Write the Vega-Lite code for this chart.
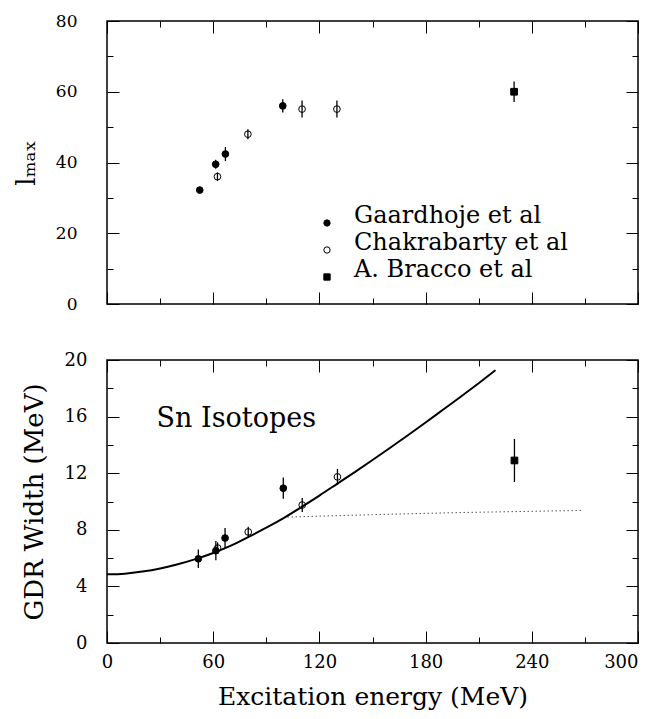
{
  "$schema": "https://vega.github.io/schema/vega-lite/v6.json",
  "padding": {"left": 12, "top": 11, "right": 5, "bottom": 3},
  "spacing": 37,
  "background": "white",
  "config": {
    "font": "DejaVu Serif",
    "view": {"stroke": "black", "strokeWidth": 1.5},
    "axis": {"domain": false, "grid": false, "tickColor": "black", "tickWidth": 1, "labelColor": "black", "titleColor": "black", "labelFont": "DejaVu Serif", "titleFont": "DejaVu Serif", "titleFontWeight": "normal", "labelFontSize": 17}
  },
  "datasets": {
    "lmax": [
      {"source": "Gaardhoje et al", "E": 52.4, "v": 32.2, "lo": 31.6, "hi": 32.8},
      {"source": "Gaardhoje et al", "E": 61.4, "v": 39.5, "lo": 38.2, "hi": 40.8},
      {"source": "Gaardhoje et al", "E": 66.9, "v": 42.4, "lo": 40.4, "hi": 44.4},
      {"source": "Gaardhoje et al", "E": 99.3, "v": 56.0, "lo": 54.1, "hi": 57.9},
      {"source": "Chakrabarty et al", "E": 62.4, "v": 36.0, "lo": 34.8, "hi": 37.2},
      {"source": "Chakrabarty et al", "E": 79.6, "v": 48.0, "lo": 46.6, "hi": 49.4},
      {"source": "Chakrabarty et al", "E": 110.2, "v": 55.1, "lo": 52.7, "hi": 57.5},
      {"source": "Chakrabarty et al", "E": 129.9, "v": 55.1, "lo": 52.7, "hi": 57.5},
      {"source": "A. Bracco et al", "E": 230, "v": 60.0, "lo": 57.1, "hi": 62.9}
    ],
    "gdr": [
      {"source": "Gaardhoje et al", "E": 51.6, "v": 5.95, "lo": 5.3, "hi": 6.6},
      {"source": "Gaardhoje et al", "E": 61.5, "v": 6.52, "lo": 5.84, "hi": 7.2},
      {"source": "Gaardhoje et al", "E": 66.7, "v": 7.42, "lo": 6.71, "hi": 8.13},
      {"source": "Gaardhoje et al", "E": 99.6, "v": 10.94, "lo": 10.19, "hi": 11.69},
      {"source": "Chakrabarty et al", "E": 62.5, "v": 6.71, "lo": 6.31, "hi": 7.11},
      {"source": "Chakrabarty et al", "E": 79.8, "v": 7.85, "lo": 7.49, "hi": 8.21},
      {"source": "Chakrabarty et al", "E": 110.3, "v": 9.75, "lo": 9.26, "hi": 10.24},
      {"source": "Chakrabarty et al", "E": 130.2, "v": 11.74, "lo": 11.18, "hi": 12.3},
      {"source": "A. Bracco et al", "E": 230.2, "v": 12.9, "lo": 11.38, "hi": 14.42}
    ],
    "curve": [
      {"E": 0, "W": 4.85}, {"E": 10, "W": 4.9}, {"E": 20, "W": 5.05}, {"E": 30, "W": 5.27},
      {"E": 40, "W": 5.57}, {"E": 50, "W": 5.93}, {"E": 60, "W": 6.36}, {"E": 70, "W": 6.88},
      {"E": 80, "W": 7.5}, {"E": 90, "W": 8.15}, {"E": 100, "W": 8.85}, {"E": 110, "W": 9.62},
      {"E": 120, "W": 10.42}, {"E": 130, "W": 11.25}, {"E": 140, "W": 12.08}, {"E": 150, "W": 12.93},
      {"E": 160, "W": 13.8}, {"E": 170, "W": 14.68}, {"E": 180, "W": 15.58}, {"E": 190, "W": 16.5},
      {"E": 200, "W": 17.42}, {"E": 210, "W": 18.36}, {"E": 219.5, "W": 19.28}
    ],
    "dotted": [
      {"E": 102, "W": 8.9}, {"E": 150, "W": 9.07}, {"E": 200, "W": 9.22}, {"E": 269, "W": 9.37}
    ],
    "note": [
      {"E": 28, "W": 15.3, "label": "Sn Isotopes"}
    ]
  },
  "resolve": {"scale": {"shape": "independent", "fill": "independent", "stroke": "independent"}},
  "vconcat": [
    {
      "width": 531,
      "height": 283,
      "data": {"name": "lmax"},
      "layer": [
        {
          "mark": {"type": "rule", "color": "black", "strokeWidth": 1.3},
          "encoding": {
            "x": {"field": "E", "type": "quantitative", "scale": {"domain": [0, 300], "nice": false},
              "axis": {"orient": "top", "values": [0, 30, 60, 90, 120, 150, 180, 210, 240, 270, 300], "labels": false, "title": null,
                "tickSize": {"condition": {"test": "datum.value % 60 === 0", "value": -12}, "value": -6}}},
            "y": {"field": "lo", "type": "quantitative", "scale": {"domain": [0, 80], "nice": false},
              "axis": {"orient": "right", "values": [0, 10, 20, 30, 40, 50, 60, 70, 80], "labels": false, "title": null,
                "tickSize": {"condition": {"test": "datum.value % 20 === 0", "value": -12}, "value": -6}}},
            "y2": {"field": "hi"}
          }
        },
        {
          "mark": {"type": "point", "strokeWidth": 1, "opacity": 1, "size": 45},
          "encoding": {
            "x": {"field": "E", "type": "quantitative", "scale": {"domain": [0, 300], "nice": false},
              "axis": {"orient": "bottom", "values": [0, 30, 60, 90, 120, 150, 180, 210, 240, 270, 300], "labels": false, "title": null,
                "tickSize": {"condition": {"test": "datum.value % 60 === 0", "value": -12}, "value": -6}}},
            "y": {"field": "v", "type": "quantitative", "scale": {"domain": [0, 80], "nice": false},
              "axis": {"orient": "left", "values": [0, 10, 20, 30, 40, 50, 60, 70, 80],
                "labelExpr": "datum.value % 20 === 0 ? datum.label : ''",
                "tickSize": {"condition": {"test": "datum.value % 20 === 0", "value": -12}, "value": -6},
                "labelPadding": 42, "title": "lₘₐₓ", "titleFontSize": 26, "titlePadding": 16}},
            "shape": {"field": "source", "type": "nominal",
              "scale": {"domain": ["Gaardhoje et al", "Chakrabarty et al", "A. Bracco et al"], "range": ["circle", "circle", "square"]},
              "legend": {"orient": "none", "legendX": 208, "legendY": 190, "title": null, "labelFontSize": 24, "labelFont": "DejaVu Serif", "labelColor": "black", "labelOffset": 15, "labelLimit": 0, "labelBaseline": "alphabetic", "rowPadding": 2, "symbolStrokeWidth": 1, "symbolSize": 40, "padding": 0}},
            "fill": {"field": "source", "type": "nominal",
              "scale": {"domain": ["Gaardhoje et al", "Chakrabarty et al", "A. Bracco et al"], "range": ["black", "transparent", "black"]},
              "legend": {"orient": "none", "legendX": 208, "legendY": 190, "title": null, "labelFontSize": 24, "labelFont": "DejaVu Serif", "labelColor": "black", "labelOffset": 15, "labelLimit": 0, "labelBaseline": "alphabetic", "rowPadding": 2, "symbolStrokeWidth": 1, "symbolSize": 40, "padding": 0}},
            "stroke": {"field": "source", "type": "nominal",
              "scale": {"domain": ["Gaardhoje et al", "Chakrabarty et al", "A. Bracco et al"], "range": ["black", "black", "black"]},
              "legend": {"orient": "none", "legendX": 208, "legendY": 190, "title": null, "labelFontSize": 24, "labelFont": "DejaVu Serif", "labelColor": "black", "labelOffset": 15, "labelLimit": 0, "labelBaseline": "alphabetic", "rowPadding": 2, "symbolStrokeWidth": 1, "symbolSize": 40, "padding": 0}}
          }
        }
      ],
      "resolve": {"axis": {"x": "independent", "y": "independent"}}
    },
    {
      "width": 531,
      "height": 283,
      "layer": [
        {
          "data": {"name": "dotted"},
          "mark": {"type": "line", "color": "#555555", "strokeWidth": 1, "strokeDash": [1.5, 2.5]},
          "encoding": {
            "x": {"field": "E", "type": "quantitative", "scale": {"domain": [0, 300], "nice": false}, "axis": null},
            "y": {"field": "W", "type": "quantitative", "scale": {"domain": [0, 20], "nice": false}, "axis": null}
          }
        },
        {
          "data": {"name": "curve"},
          "mark": {"type": "line", "color": "black", "strokeWidth": 2, "interpolate": "monotone"},
          "encoding": {
            "x": {"field": "E", "type": "quantitative", "scale": {"domain": [0, 300], "nice": false}, "axis": null},
            "y": {"field": "W", "type": "quantitative", "scale": {"domain": [0, 20], "nice": false}, "axis": null}
          }
        },
        {
          "data": {"name": "gdr"},
          "mark": {"type": "rule", "color": "black", "strokeWidth": 1.3},
          "encoding": {
            "x": {"field": "E", "type": "quantitative", "scale": {"domain": [0, 300], "nice": false},
              "axis": {"orient": "top", "values": [0, 30, 60, 90, 120, 150, 180, 210, 240, 270, 300], "labels": false, "title": null,
                "tickSize": {"condition": {"test": "datum.value % 60 === 0", "value": -12}, "value": -6}}},
            "y": {"field": "lo", "type": "quantitative", "scale": {"domain": [0, 20], "nice": false},
              "axis": {"orient": "right", "values": [0, 2, 4, 6, 8, 10, 12, 14, 16, 18, 20], "labels": false, "title": null,
                "tickSize": {"condition": {"test": "datum.value % 4 === 0", "value": -12}, "value": -6}}},
            "y2": {"field": "hi"}
          }
        },
        {
          "data": {"name": "gdr"},
          "mark": {"type": "point", "strokeWidth": 1, "opacity": 1, "size": 45},
          "encoding": {
            "x": {"field": "E", "type": "quantitative", "scale": {"domain": [0, 300], "nice": false},
              "axis": {"orient": "bottom", "values": [0, 30, 60, 90, 120, 150, 180, 210, 240, 270, 300],
                "labelExpr": "datum.value % 60 === 0 ? datum.label : ''",
                "labelAlign": {"condition": {"test": "datum.value === 300", "value": "right"}, "value": "center"},
                "labelFontSize": 18,
                "tickSize": {"condition": {"test": "datum.value % 60 === 0", "value": -12}, "value": -6},
                "labelPadding": 22, "title": "Excitation energy (MeV)", "titleFontSize": 25, "titlePadding": 13}},
            "y": {"field": "v", "type": "quantitative", "scale": {"domain": [0, 20], "nice": false},
              "axis": {"orient": "left", "values": [0, 2, 4, 6, 8, 10, 12, 14, 16, 18, 20],
                "labelExpr": "datum.value % 4 === 0 ? datum.label : ''",
                "labelFontSize": 18,
                "tickSize": {"condition": {"test": "datum.value % 4 === 0", "value": -12}, "value": -6},
                "labelPadding": 32, "title": "GDR Width (MeV)", "titleFontSize": 26, "titlePadding": 17}},
            "shape": {"field": "source", "type": "nominal",
              "scale": {"domain": ["Gaardhoje et al", "Chakrabarty et al", "A. Bracco et al"], "range": ["circle", "circle", "square"]},
              "legend": null},
            "fill": {"field": "source", "type": "nominal",
              "scale": {"domain": ["Gaardhoje et al", "Chakrabarty et al", "A. Bracco et al"], "range": ["black", "transparent", "black"]},
              "legend": null},
            "stroke": {"field": "source", "type": "nominal",
              "scale": {"domain": ["Gaardhoje et al", "Chakrabarty et al", "A. Bracco et al"], "range": ["black", "black", "black"]},
              "legend": null}
          }
        },
        {
          "data": {"name": "note"},
          "mark": {"type": "text", "align": "left", "baseline": "alphabetic", "fontSize": 27, "font": "DejaVu Serif", "color": "black"},
          "encoding": {
            "x": {"field": "E", "type": "quantitative", "scale": {"domain": [0, 300], "nice": false}, "axis": null},
            "y": {"field": "W", "type": "quantitative", "scale": {"domain": [0, 20], "nice": false}, "axis": null},
            "text": {"field": "label"}
          }
        }
      ],
      "resolve": {"axis": {"x": "independent", "y": "independent"}}
    }
  ]
}
